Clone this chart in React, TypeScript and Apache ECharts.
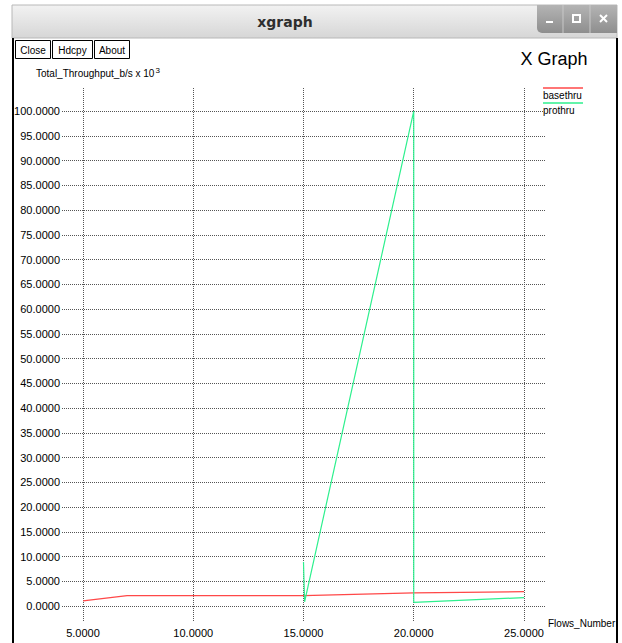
import React, { useEffect, useRef } from "react";
import * as echarts from "echarts";

const xTicks = [5, 10, 15, 20, 25];
const yTicks = [0, 5, 10, 15, 20, 25, 30, 35, 40, 45, 50, 55, 60, 65, 70, 75, 80, 85, 90, 95, 100];
const seriesNames = ["basethru", "prothru"];
const seriesColors = ["#ff4848", "#2ef08e"];
const baseX = [5, 7, 15, 20, 25];
const baseY = [1.05, 2.1, 2.1, 2.65, 2.9];
const proX = [15, 15.05, 20, 20, 25];
const proY = [8.9, 0.85, 100, 0.75, 1.7];
const buttonLabels = ["Close", "Hdcpy", "About"];
const windowTitle = "xgraph";
const graphTitle = "X Graph";
const yAxisTitle = "Total_Throughput_b/s x 10";
const xAxisTitle = "Flows_Number";

const FONT = "Liberation Sans, Arial, sans-serif";

export default function App() {
  const ref = useRef<HTMLDivElement>(null);
  useEffect(() => {
    document.body.style.margin = "0";
    if (!ref.current) return;
    const chart = echarts.init(ref.current, undefined, { renderer: "svg" });
    const gridLine = { show: true, lineStyle: { color: "#555", width: 1, type: [1, 1] as any } };
    const btnX = [15, 52, 94];
    const btnW = [35, 40, 35];
    const graphic: any[] = [
      // title bar
      {
        type: "rect",
        shape: { x: 12, y: 5, width: 605, height: 33 },
        style: {
          fill: new echarts.graphic.LinearGradient(0, 0, 0, 1, [
            { offset: 0, color: "#f2f2f2" },
            { offset: 1, color: "#d6d6d6" },
          ]),
          stroke: "#b8b8b8",
          lineWidth: 1,
        },
      },
      {
        type: "text",
        x: 285,
        y: 22,
        style: { text: windowTitle, font: "bold 14px DejaVu Sans", fill: "#2e2e2e", align: "center", verticalAlign: "middle" },
      },
      // window buttons
      {
        type: "rect",
        shape: { x: 537, y: 5, width: 80, height: 28, r: [0, 0, 0, 5] },
        style: {
          fill: new echarts.graphic.LinearGradient(0, 0, 0, 1, [
            { offset: 0, color: "#b4b4b4" },
            { offset: 1, color: "#8e8e8e" },
          ]),
        },
      },
      { type: "line", shape: { x1: 563, y1: 5, x2: 563, y2: 33 }, style: { stroke: "#c8c8c8", lineWidth: 1 } },
      { type: "line", shape: { x1: 590, y1: 5, x2: 590, y2: 33 }, style: { stroke: "#c8c8c8", lineWidth: 1 } },
      { type: "rect", shape: { x: 546, y: 21, width: 7, height: 2 }, style: { fill: "#fff" } },
      { type: "rect", shape: { x: 573, y: 15, width: 7, height: 7 }, style: { fill: "none", stroke: "#fff", lineWidth: 2 } },
      { type: "line", shape: { x1: 600, y1: 15, x2: 607, y2: 22 }, style: { stroke: "#fff", lineWidth: 2 } },
      { type: "line", shape: { x1: 607, y1: 15, x2: 600, y2: 22 }, style: { stroke: "#fff", lineWidth: 2 } },
      // window borders
      { type: "line", shape: { x1: 13, y1: 38, x2: 13, y2: 643 }, style: { stroke: "#000", lineWidth: 2 } },
      { type: "line", shape: { x1: 617, y1: 38, x2: 617, y2: 643 }, style: { stroke: "#000", lineWidth: 2 } },
      // header texts
      {
        type: "text",
        x: 554,
        y: 59,
        style: { text: graphTitle, font: "18px " + FONT, fill: "#000", align: "center", verticalAlign: "middle" },
      },
      {
        type: "text",
        x: 36,
        y: 73,
        style: {
          text: yAxisTitle + "{sup|3}",
          font: "10px " + FONT,
          fill: "#000",
          verticalAlign: "middle",
          rich: { sup: { fontSize: 8, fontFamily: FONT, verticalAlign: "top", padding: [0, 0, 6, 1], fill: "#000" } },
        },
      },
      {
        type: "text",
        x: 548,
        y: 623,
        style: { text: xAxisTitle, font: "10px " + FONT, fill: "#000", verticalAlign: "middle" },
      },
    ];
    buttonLabels.forEach((b, i) => {
      graphic.push({
        type: "rect",
        shape: { x: btnX[i] + 0.5, y: 40.5, width: btnW[i], height: 18 },
        style: { fill: "#fff", stroke: "#000", lineWidth: 1 },
      });
      graphic.push({
        type: "text",
        x: btnX[i] + btnW[i] / 2 + 0.5,
        y: 50,
        style: { text: b, font: "10px " + FONT, fill: "#000", align: "center", verticalAlign: "middle" },
      });
    });
    // legend
    seriesNames.forEach((n, i) => {
      graphic.push({
        type: "line",
        shape: { x1: 543, y1: 88 + i * 15, x2: 583, y2: 88 + i * 15 },
        style: { stroke: seriesColors[i], lineWidth: 1.5 },
      });
      graphic.push({
        type: "text",
        x: 543,
        y: 95 + i * 15,
        style: { text: n, font: "10px " + FONT, fill: "#000", verticalAlign: "middle" },
      });
    });

    chart.setOption({
      animation: false,
      backgroundColor: "#fff",
      grid: { left: 62, right: 76, top: 88, bottom: 21, containLabel: false },
      xAxis: {
        type: "value",
        min: 4.048,
        max: 25.998,
        axisLine: { show: false },
        axisTick: { show: false, customValues: xTicks },
        axisLabel: {
          customValues: xTicks,
          formatter: (v: number) => v.toFixed(4),
          color: "#000",
          fontFamily: FONT,
          fontSize: 11,
          margin: 5,
        },
        splitLine: gridLine,
      },
      yAxis: {
        type: "value",
        min: -3.23,
        max: 104.65,
        axisLine: { show: false },
        axisTick: { show: false, customValues: yTicks },
        axisLabel: {
          customValues: yTicks,
          formatter: (v: number) => v.toFixed(4),
          color: "#000",
          fontFamily: FONT,
          fontSize: 11,
          margin: 2,
        },
        splitLine: gridLine,
      },
      series: [
        {
          name: seriesNames[0],
          type: "line",
          data: baseX.map((x, i) => [x, baseY[i]]),
          showSymbol: false,
          lineStyle: { color: seriesColors[0], width: 1.2 },
          itemStyle: { color: seriesColors[0] },
        },
        {
          name: seriesNames[1],
          type: "line",
          data: proX.map((x, i) => [x, proY[i]]),
          showSymbol: false,
          lineStyle: { color: seriesColors[1], width: 1.2 },
          itemStyle: { color: seriesColors[1] },
        },
      ],
      graphic,
    });
    return () => chart.dispose();
  }, []);
  return <div ref={ref} style={{ width: 622, height: 643 }} />;
}
